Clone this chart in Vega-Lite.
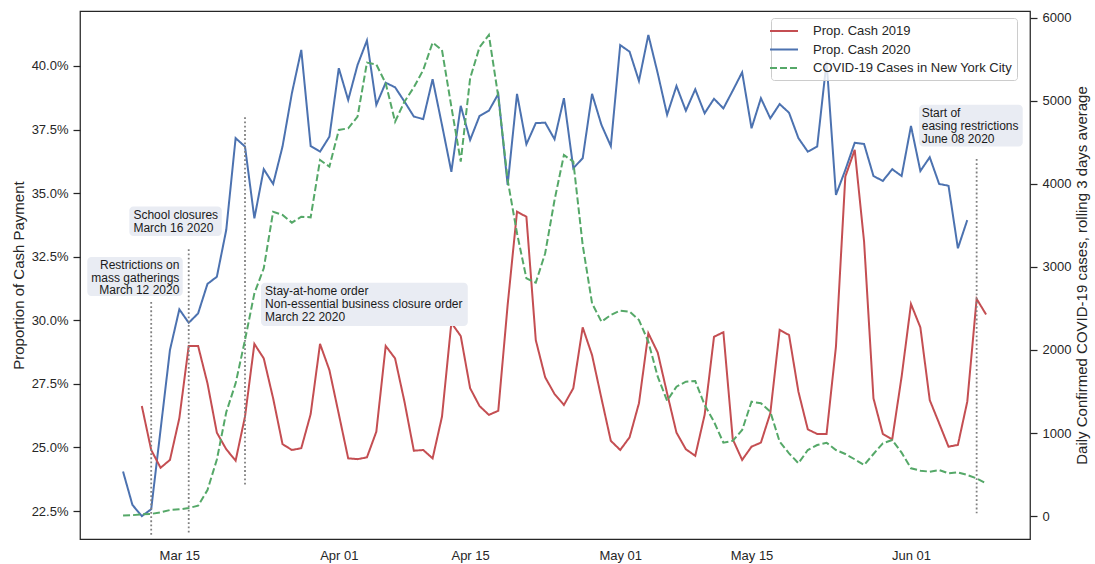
{
  "$schema": "https://vega.github.io/schema/vega-lite/v6.json",
  "width": 950,
  "height": 528,
  "autosize": {"type": "none"},
  "padding": {"left": 80, "top": 11, "right": 65, "bottom": 25},
  "background": "white",
  "datasets": {
    "cash": [
      {"date": "2020-03-09", "series": "Prop. Cash 2020", "value": 0.2405},
      {"date": "2020-03-10", "series": "Prop. Cash 2020", "value": 0.2274},
      {"date": "2020-03-11", "series": "Prop. Cash 2020", "value": 0.2230},
      {"date": "2020-03-12", "series": "Prop. Cash 2020", "value": 0.2257},
      {"date": "2020-03-13", "series": "Prop. Cash 2020", "value": 0.2570},
      {"date": "2020-03-14", "series": "Prop. Cash 2020", "value": 0.2883},
      {"date": "2020-03-15", "series": "Prop. Cash 2020", "value": 0.3043},
      {"date": "2020-03-16", "series": "Prop. Cash 2020", "value": 0.2990},
      {"date": "2020-03-17", "series": "Prop. Cash 2020", "value": 0.3027},
      {"date": "2020-03-18", "series": "Prop. Cash 2020", "value": 0.3143},
      {"date": "2020-03-19", "series": "Prop. Cash 2020", "value": 0.3171},
      {"date": "2020-03-20", "series": "Prop. Cash 2020", "value": 0.3355},
      {"date": "2020-03-21", "series": "Prop. Cash 2020", "value": 0.3716},
      {"date": "2020-03-22", "series": "Prop. Cash 2020", "value": 0.3683},
      {"date": "2020-03-23", "series": "Prop. Cash 2020", "value": 0.3401},
      {"date": "2020-03-24", "series": "Prop. Cash 2020", "value": 0.3594},
      {"date": "2020-03-25", "series": "Prop. Cash 2020", "value": 0.3536},
      {"date": "2020-03-26", "series": "Prop. Cash 2020", "value": 0.3683},
      {"date": "2020-03-27", "series": "Prop. Cash 2020", "value": 0.3893},
      {"date": "2020-03-28", "series": "Prop. Cash 2020", "value": 0.4063},
      {"date": "2020-03-29", "series": "Prop. Cash 2020", "value": 0.3685},
      {"date": "2020-03-30", "series": "Prop. Cash 2020", "value": 0.3663},
      {"date": "2020-03-31", "series": "Prop. Cash 2020", "value": 0.3722},
      {"date": "2020-04-01", "series": "Prop. Cash 2020", "value": 0.3991},
      {"date": "2020-04-02", "series": "Prop. Cash 2020", "value": 0.3866},
      {"date": "2020-04-03", "series": "Prop. Cash 2020", "value": 0.4004},
      {"date": "2020-04-04", "series": "Prop. Cash 2020", "value": 0.4100},
      {"date": "2020-04-05", "series": "Prop. Cash 2020", "value": 0.3847},
      {"date": "2020-04-06", "series": "Prop. Cash 2020", "value": 0.3934},
      {"date": "2020-04-07", "series": "Prop. Cash 2020", "value": 0.3916},
      {"date": "2020-04-08", "series": "Prop. Cash 2020", "value": 0.3860},
      {"date": "2020-04-09", "series": "Prop. Cash 2020", "value": 0.3801},
      {"date": "2020-04-10", "series": "Prop. Cash 2020", "value": 0.3791},
      {"date": "2020-04-11", "series": "Prop. Cash 2020", "value": 0.3948},
      {"date": "2020-04-12", "series": "Prop. Cash 2020", "value": 0.3768},
      {"date": "2020-04-13", "series": "Prop. Cash 2020", "value": 0.3584},
      {"date": "2020-04-14", "series": "Prop. Cash 2020", "value": 0.3843},
      {"date": "2020-04-15", "series": "Prop. Cash 2020", "value": 0.3709},
      {"date": "2020-04-16", "series": "Prop. Cash 2020", "value": 0.3803},
      {"date": "2020-04-17", "series": "Prop. Cash 2020", "value": 0.3824},
      {"date": "2020-04-18", "series": "Prop. Cash 2020", "value": 0.3890},
      {"date": "2020-04-19", "series": "Prop. Cash 2020", "value": 0.3532},
      {"date": "2020-04-20", "series": "Prop. Cash 2020", "value": 0.3890},
      {"date": "2020-04-21", "series": "Prop. Cash 2020", "value": 0.3692},
      {"date": "2020-04-22", "series": "Prop. Cash 2020", "value": 0.3775},
      {"date": "2020-04-23", "series": "Prop. Cash 2020", "value": 0.3777},
      {"date": "2020-04-24", "series": "Prop. Cash 2020", "value": 0.3712},
      {"date": "2020-04-25", "series": "Prop. Cash 2020", "value": 0.3873},
      {"date": "2020-04-26", "series": "Prop. Cash 2020", "value": 0.3598},
      {"date": "2020-04-27", "series": "Prop. Cash 2020", "value": 0.3637},
      {"date": "2020-04-28", "series": "Prop. Cash 2020", "value": 0.3890},
      {"date": "2020-04-29", "series": "Prop. Cash 2020", "value": 0.3768},
      {"date": "2020-04-30", "series": "Prop. Cash 2020", "value": 0.3685},
      {"date": "2020-05-01", "series": "Prop. Cash 2020", "value": 0.4082},
      {"date": "2020-05-02", "series": "Prop. Cash 2020", "value": 0.4056},
      {"date": "2020-05-03", "series": "Prop. Cash 2020", "value": 0.3941},
      {"date": "2020-05-04", "series": "Prop. Cash 2020", "value": 0.4122},
      {"date": "2020-05-05", "series": "Prop. Cash 2020", "value": 0.3971},
      {"date": "2020-05-06", "series": "Prop. Cash 2020", "value": 0.3808},
      {"date": "2020-05-07", "series": "Prop. Cash 2020", "value": 0.3921},
      {"date": "2020-05-08", "series": "Prop. Cash 2020", "value": 0.3824},
      {"date": "2020-05-09", "series": "Prop. Cash 2020", "value": 0.3908},
      {"date": "2020-05-10", "series": "Prop. Cash 2020", "value": 0.3814},
      {"date": "2020-05-11", "series": "Prop. Cash 2020", "value": 0.3871},
      {"date": "2020-05-12", "series": "Prop. Cash 2020", "value": 0.3833},
      {"date": "2020-05-13", "series": "Prop. Cash 2020", "value": 0.3903},
      {"date": "2020-05-14", "series": "Prop. Cash 2020", "value": 0.3975},
      {"date": "2020-05-15", "series": "Prop. Cash 2020", "value": 0.3755},
      {"date": "2020-05-16", "series": "Prop. Cash 2020", "value": 0.3873},
      {"date": "2020-05-17", "series": "Prop. Cash 2020", "value": 0.3794},
      {"date": "2020-05-18", "series": "Prop. Cash 2020", "value": 0.3850},
      {"date": "2020-05-19", "series": "Prop. Cash 2020", "value": 0.3816},
      {"date": "2020-05-20", "series": "Prop. Cash 2020", "value": 0.3716},
      {"date": "2020-05-21", "series": "Prop. Cash 2020", "value": 0.3663},
      {"date": "2020-05-22", "series": "Prop. Cash 2020", "value": 0.3683},
      {"date": "2020-05-23", "series": "Prop. Cash 2020", "value": 0.4017},
      {"date": "2020-05-24", "series": "Prop. Cash 2020", "value": 0.3493},
      {"date": "2020-05-25", "series": "Prop. Cash 2020", "value": 0.3591},
      {"date": "2020-05-26", "series": "Prop. Cash 2020", "value": 0.3698},
      {"date": "2020-05-27", "series": "Prop. Cash 2020", "value": 0.3693},
      {"date": "2020-05-28", "series": "Prop. Cash 2020", "value": 0.3567},
      {"date": "2020-05-29", "series": "Prop. Cash 2020", "value": 0.3548},
      {"date": "2020-05-30", "series": "Prop. Cash 2020", "value": 0.3594},
      {"date": "2020-05-31", "series": "Prop. Cash 2020", "value": 0.3567},
      {"date": "2020-06-01", "series": "Prop. Cash 2020", "value": 0.3764},
      {"date": "2020-06-02", "series": "Prop. Cash 2020", "value": 0.3587},
      {"date": "2020-06-03", "series": "Prop. Cash 2020", "value": 0.3641},
      {"date": "2020-06-04", "series": "Prop. Cash 2020", "value": 0.3536},
      {"date": "2020-06-05", "series": "Prop. Cash 2020", "value": 0.3529},
      {"date": "2020-06-06", "series": "Prop. Cash 2020", "value": 0.3283},
      {"date": "2020-06-07", "series": "Prop. Cash 2020", "value": 0.3394},
      {"date": "2020-03-11", "series": "Prop. Cash 2019", "value": 0.2663},
      {"date": "2020-03-12", "series": "Prop. Cash 2019", "value": 0.2490},
      {"date": "2020-03-13", "series": "Prop. Cash 2019", "value": 0.2420},
      {"date": "2020-03-14", "series": "Prop. Cash 2019", "value": 0.2451},
      {"date": "2020-03-15", "series": "Prop. Cash 2019", "value": 0.2615},
      {"date": "2020-03-16", "series": "Prop. Cash 2019", "value": 0.2899},
      {"date": "2020-03-17", "series": "Prop. Cash 2019", "value": 0.2899},
      {"date": "2020-03-18", "series": "Prop. Cash 2019", "value": 0.2752},
      {"date": "2020-03-19", "series": "Prop. Cash 2019", "value": 0.2558},
      {"date": "2020-03-20", "series": "Prop. Cash 2019", "value": 0.2493},
      {"date": "2020-03-21", "series": "Prop. Cash 2019", "value": 0.2448},
      {"date": "2020-03-22", "series": "Prop. Cash 2019", "value": 0.2621},
      {"date": "2020-03-23", "series": "Prop. Cash 2019", "value": 0.2907},
      {"date": "2020-03-24", "series": "Prop. Cash 2019", "value": 0.2850},
      {"date": "2020-03-25", "series": "Prop. Cash 2019", "value": 0.2693},
      {"date": "2020-03-26", "series": "Prop. Cash 2019", "value": 0.2513},
      {"date": "2020-03-27", "series": "Prop. Cash 2019", "value": 0.2490},
      {"date": "2020-03-28", "series": "Prop. Cash 2019", "value": 0.2497},
      {"date": "2020-03-29", "series": "Prop. Cash 2019", "value": 0.2631},
      {"date": "2020-03-30", "series": "Prop. Cash 2019", "value": 0.2907},
      {"date": "2020-03-31", "series": "Prop. Cash 2019", "value": 0.2804},
      {"date": "2020-04-01", "series": "Prop. Cash 2019", "value": 0.2631},
      {"date": "2020-04-02", "series": "Prop. Cash 2019", "value": 0.2457},
      {"date": "2020-04-03", "series": "Prop. Cash 2019", "value": 0.2454},
      {"date": "2020-04-04", "series": "Prop. Cash 2019", "value": 0.2461},
      {"date": "2020-04-05", "series": "Prop. Cash 2019", "value": 0.2562},
      {"date": "2020-04-06", "series": "Prop. Cash 2019", "value": 0.2899},
      {"date": "2020-04-07", "series": "Prop. Cash 2019", "value": 0.2850},
      {"date": "2020-04-08", "series": "Prop. Cash 2019", "value": 0.2680},
      {"date": "2020-04-09", "series": "Prop. Cash 2019", "value": 0.2487},
      {"date": "2020-04-10", "series": "Prop. Cash 2019", "value": 0.2490},
      {"date": "2020-04-11", "series": "Prop. Cash 2019", "value": 0.2457},
      {"date": "2020-04-12", "series": "Prop. Cash 2019", "value": 0.2621},
      {"date": "2020-04-13", "series": "Prop. Cash 2019", "value": 0.2990},
      {"date": "2020-04-14", "series": "Prop. Cash 2019", "value": 0.2938},
      {"date": "2020-04-15", "series": "Prop. Cash 2019", "value": 0.2733},
      {"date": "2020-04-16", "series": "Prop. Cash 2019", "value": 0.2663},
      {"date": "2020-04-17", "series": "Prop. Cash 2019", "value": 0.2628},
      {"date": "2020-04-18", "series": "Prop. Cash 2019", "value": 0.2644},
      {"date": "2020-04-19", "series": "Prop. Cash 2019", "value": 0.3060},
      {"date": "2020-04-20", "series": "Prop. Cash 2019", "value": 0.3427},
      {"date": "2020-04-21", "series": "Prop. Cash 2019", "value": 0.3407},
      {"date": "2020-04-22", "series": "Prop. Cash 2019", "value": 0.2922},
      {"date": "2020-04-23", "series": "Prop. Cash 2019", "value": 0.2776},
      {"date": "2020-04-24", "series": "Prop. Cash 2019", "value": 0.2710},
      {"date": "2020-04-25", "series": "Prop. Cash 2019", "value": 0.2667},
      {"date": "2020-04-26", "series": "Prop. Cash 2019", "value": 0.2733},
      {"date": "2020-04-27", "series": "Prop. Cash 2019", "value": 0.2972},
      {"date": "2020-04-28", "series": "Prop. Cash 2019", "value": 0.2863},
      {"date": "2020-04-29", "series": "Prop. Cash 2019", "value": 0.2693},
      {"date": "2020-04-30", "series": "Prop. Cash 2019", "value": 0.2526},
      {"date": "2020-05-01", "series": "Prop. Cash 2019", "value": 0.2490},
      {"date": "2020-05-02", "series": "Prop. Cash 2019", "value": 0.2540},
      {"date": "2020-05-03", "series": "Prop. Cash 2019", "value": 0.2674},
      {"date": "2020-05-04", "series": "Prop. Cash 2019", "value": 0.2949},
      {"date": "2020-05-05", "series": "Prop. Cash 2019", "value": 0.2873},
      {"date": "2020-05-06", "series": "Prop. Cash 2019", "value": 0.2713},
      {"date": "2020-05-07", "series": "Prop. Cash 2019", "value": 0.2558},
      {"date": "2020-05-08", "series": "Prop. Cash 2019", "value": 0.2493},
      {"date": "2020-05-09", "series": "Prop. Cash 2019", "value": 0.2467},
      {"date": "2020-05-10", "series": "Prop. Cash 2019", "value": 0.2628},
      {"date": "2020-05-11", "series": "Prop. Cash 2019", "value": 0.2935},
      {"date": "2020-05-12", "series": "Prop. Cash 2019", "value": 0.2953},
      {"date": "2020-05-13", "series": "Prop. Cash 2019", "value": 0.2532},
      {"date": "2020-05-14", "series": "Prop. Cash 2019", "value": 0.2451},
      {"date": "2020-05-15", "series": "Prop. Cash 2019", "value": 0.2503},
      {"date": "2020-05-16", "series": "Prop. Cash 2019", "value": 0.2519},
      {"date": "2020-05-17", "series": "Prop. Cash 2019", "value": 0.2634},
      {"date": "2020-05-18", "series": "Prop. Cash 2019", "value": 0.2962},
      {"date": "2020-05-19", "series": "Prop. Cash 2019", "value": 0.2942},
      {"date": "2020-05-20", "series": "Prop. Cash 2019", "value": 0.2719},
      {"date": "2020-05-21", "series": "Prop. Cash 2019", "value": 0.2571},
      {"date": "2020-05-22", "series": "Prop. Cash 2019", "value": 0.2553},
      {"date": "2020-05-23", "series": "Prop. Cash 2019", "value": 0.2553},
      {"date": "2020-05-24", "series": "Prop. Cash 2019", "value": 0.2896},
      {"date": "2020-05-25", "series": "Prop. Cash 2019", "value": 0.3565},
      {"date": "2020-05-26", "series": "Prop. Cash 2019", "value": 0.3670},
      {"date": "2020-05-27", "series": "Prop. Cash 2019", "value": 0.3309},
      {"date": "2020-05-28", "series": "Prop. Cash 2019", "value": 0.2693},
      {"date": "2020-05-29", "series": "Prop. Cash 2019", "value": 0.2553},
      {"date": "2020-05-30", "series": "Prop. Cash 2019", "value": 0.2532},
      {"date": "2020-05-31", "series": "Prop. Cash 2019", "value": 0.2778},
      {"date": "2020-06-01", "series": "Prop. Cash 2019", "value": 0.3064},
      {"date": "2020-06-02", "series": "Prop. Cash 2019", "value": 0.2972},
      {"date": "2020-06-03", "series": "Prop. Cash 2019", "value": 0.2686},
      {"date": "2020-06-04", "series": "Prop. Cash 2019", "value": 0.2595},
      {"date": "2020-06-05", "series": "Prop. Cash 2019", "value": 0.2503},
      {"date": "2020-06-06", "series": "Prop. Cash 2019", "value": 0.2510},
      {"date": "2020-06-07", "series": "Prop. Cash 2019", "value": 0.2680},
      {"date": "2020-06-08", "series": "Prop. Cash 2019", "value": 0.3084},
      {"date": "2020-06-09", "series": "Prop. Cash 2019", "value": 0.3023}
    ],
    "covid": [
      {"date": "2020-03-09", "series": "COVID-19 Cases in New York City", "cases": 5},
      {"date": "2020-03-10", "series": "COVID-19 Cases in New York City", "cases": 10},
      {"date": "2020-03-11", "series": "COVID-19 Cases in New York City", "cases": 20},
      {"date": "2020-03-12", "series": "COVID-19 Cases in New York City", "cases": 25},
      {"date": "2020-03-13", "series": "COVID-19 Cases in New York City", "cases": 44},
      {"date": "2020-03-14", "series": "COVID-19 Cases in New York City", "cases": 72},
      {"date": "2020-03-15", "series": "COVID-19 Cases in New York City", "cases": 80},
      {"date": "2020-03-16", "series": "COVID-19 Cases in New York City", "cases": 96},
      {"date": "2020-03-17", "series": "COVID-19 Cases in New York City", "cases": 124},
      {"date": "2020-03-18", "series": "COVID-19 Cases in New York City", "cases": 313},
      {"date": "2020-03-19", "series": "COVID-19 Cases in New York City", "cases": 680},
      {"date": "2020-03-20", "series": "COVID-19 Cases in New York City", "cases": 1250},
      {"date": "2020-03-21", "series": "COVID-19 Cases in New York City", "cases": 1598},
      {"date": "2020-03-22", "series": "COVID-19 Cases in New York City", "cases": 2120},
      {"date": "2020-03-23", "series": "COVID-19 Cases in New York City", "cases": 2683},
      {"date": "2020-03-24", "series": "COVID-19 Cases in New York City", "cases": 2984},
      {"date": "2020-03-25", "series": "COVID-19 Cases in New York City", "cases": 3666},
      {"date": "2020-03-26", "series": "COVID-19 Cases in New York City", "cases": 3627},
      {"date": "2020-03-27", "series": "COVID-19 Cases in New York City", "cases": 3534},
      {"date": "2020-03-28", "series": "COVID-19 Cases in New York City", "cases": 3606},
      {"date": "2020-03-29", "series": "COVID-19 Cases in New York City", "cases": 3598},
      {"date": "2020-03-30", "series": "COVID-19 Cases in New York City", "cases": 4289},
      {"date": "2020-03-31", "series": "COVID-19 Cases in New York City", "cases": 4209},
      {"date": "2020-04-01", "series": "COVID-19 Cases in New York City", "cases": 4651},
      {"date": "2020-04-02", "series": "COVID-19 Cases in New York City", "cases": 4671},
      {"date": "2020-04-03", "series": "COVID-19 Cases in New York City", "cases": 4811},
      {"date": "2020-04-04", "series": "COVID-19 Cases in New York City", "cases": 5462},
      {"date": "2020-04-05", "series": "COVID-19 Cases in New York City", "cases": 5440},
      {"date": "2020-04-06", "series": "COVID-19 Cases in New York City", "cases": 5213},
      {"date": "2020-04-07", "series": "COVID-19 Cases in New York City", "cases": 4751},
      {"date": "2020-04-08", "series": "COVID-19 Cases in New York City", "cases": 4992},
      {"date": "2020-04-09", "series": "COVID-19 Cases in New York City", "cases": 5165},
      {"date": "2020-04-10", "series": "COVID-19 Cases in New York City", "cases": 5373},
      {"date": "2020-04-11", "series": "COVID-19 Cases in New York City", "cases": 5703},
      {"date": "2020-04-12", "series": "COVID-19 Cases in New York City", "cases": 5614},
      {"date": "2020-04-13", "series": "COVID-19 Cases in New York City", "cases": 4931},
      {"date": "2020-04-14", "series": "COVID-19 Cases in New York City", "cases": 4269},
      {"date": "2020-04-15", "series": "COVID-19 Cases in New York City", "cases": 5273},
      {"date": "2020-04-16", "series": "COVID-19 Cases in New York City", "cases": 5647},
      {"date": "2020-04-17", "series": "COVID-19 Cases in New York City", "cases": 5795},
      {"date": "2020-04-18", "series": "COVID-19 Cases in New York City", "cases": 5052},
      {"date": "2020-04-19", "series": "COVID-19 Cases in New York City", "cases": 4048},
      {"date": "2020-04-20", "series": "COVID-19 Cases in New York City", "cases": 3406},
      {"date": "2020-04-21", "series": "COVID-19 Cases in New York City", "cases": 2863},
      {"date": "2020-04-22", "series": "COVID-19 Cases in New York City", "cases": 2811},
      {"date": "2020-04-23", "series": "COVID-19 Cases in New York City", "cases": 3165},
      {"date": "2020-04-24", "series": "COVID-19 Cases in New York City", "cases": 3807},
      {"date": "2020-04-25", "series": "COVID-19 Cases in New York City", "cases": 4349},
      {"date": "2020-04-26", "series": "COVID-19 Cases in New York City", "cases": 4269},
      {"date": "2020-04-27", "series": "COVID-19 Cases in New York City", "cases": 3265},
      {"date": "2020-04-28", "series": "COVID-19 Cases in New York City", "cases": 2562},
      {"date": "2020-04-29", "series": "COVID-19 Cases in New York City", "cases": 2341},
      {"date": "2020-04-30", "series": "COVID-19 Cases in New York City", "cases": 2422},
      {"date": "2020-05-01", "series": "COVID-19 Cases in New York City", "cases": 2474},
      {"date": "2020-05-02", "series": "COVID-19 Cases in New York City", "cases": 2462},
      {"date": "2020-05-03", "series": "COVID-19 Cases in New York City", "cases": 2361},
      {"date": "2020-05-04", "series": "COVID-19 Cases in New York City", "cases": 2100},
      {"date": "2020-05-05", "series": "COVID-19 Cases in New York City", "cases": 1678},
      {"date": "2020-05-06", "series": "COVID-19 Cases in New York City", "cases": 1390},
      {"date": "2020-05-07", "series": "COVID-19 Cases in New York City", "cases": 1558},
      {"date": "2020-05-08", "series": "COVID-19 Cases in New York City", "cases": 1618},
      {"date": "2020-05-09", "series": "COVID-19 Cases in New York City", "cases": 1627},
      {"date": "2020-05-10", "series": "COVID-19 Cases in New York City", "cases": 1337},
      {"date": "2020-05-11", "series": "COVID-19 Cases in New York City", "cases": 1136},
      {"date": "2020-05-12", "series": "COVID-19 Cases in New York City", "cases": 883},
      {"date": "2020-05-13", "series": "COVID-19 Cases in New York City", "cases": 907},
      {"date": "2020-05-14", "series": "COVID-19 Cases in New York City", "cases": 1036},
      {"date": "2020-05-15", "series": "COVID-19 Cases in New York City", "cases": 1377},
      {"date": "2020-05-16", "series": "COVID-19 Cases in New York City", "cases": 1358},
      {"date": "2020-05-17", "series": "COVID-19 Cases in New York City", "cases": 1257},
      {"date": "2020-05-18", "series": "COVID-19 Cases in New York City", "cases": 895},
      {"date": "2020-05-19", "series": "COVID-19 Cases in New York City", "cases": 755},
      {"date": "2020-05-20", "series": "COVID-19 Cases in New York City", "cases": 635},
      {"date": "2020-05-21", "series": "COVID-19 Cases in New York City", "cases": 795},
      {"date": "2020-05-22", "series": "COVID-19 Cases in New York City", "cases": 855},
      {"date": "2020-05-23", "series": "COVID-19 Cases in New York City", "cases": 883},
      {"date": "2020-05-24", "series": "COVID-19 Cases in New York City", "cases": 795},
      {"date": "2020-05-25", "series": "COVID-19 Cases in New York City", "cases": 747},
      {"date": "2020-05-26", "series": "COVID-19 Cases in New York City", "cases": 683},
      {"date": "2020-05-27", "series": "COVID-19 Cases in New York City", "cases": 614},
      {"date": "2020-05-28", "series": "COVID-19 Cases in New York City", "cases": 747},
      {"date": "2020-05-29", "series": "COVID-19 Cases in New York City", "cases": 876},
      {"date": "2020-05-30", "series": "COVID-19 Cases in New York City", "cases": 916},
      {"date": "2020-05-31", "series": "COVID-19 Cases in New York City", "cases": 763},
      {"date": "2020-06-01", "series": "COVID-19 Cases in New York City", "cases": 575},
      {"date": "2020-06-02", "series": "COVID-19 Cases in New York City", "cases": 546},
      {"date": "2020-06-03", "series": "COVID-19 Cases in New York City", "cases": 534},
      {"date": "2020-06-04", "series": "COVID-19 Cases in New York City", "cases": 554},
      {"date": "2020-06-05", "series": "COVID-19 Cases in New York City", "cases": 514},
      {"date": "2020-06-06", "series": "COVID-19 Cases in New York City", "cases": 526},
      {"date": "2020-06-07", "series": "COVID-19 Cases in New York City", "cases": 494},
      {"date": "2020-06-08", "series": "COVID-19 Cases in New York City", "cases": 454},
      {"date": "2020-06-09", "series": "COVID-19 Cases in New York City", "cases": 394}
    ],
    "events": [
      {"date": "2020-03-12", "top": 0.3072, "bottom": 0.2156},
      {"date": "2020-03-16", "top": 0.3279, "bottom": 0.2156},
      {"date": "2020-03-22", "top": 0.3798, "bottom": 0.2346},
      {"date": "2020-06-08", "top": 0.3634, "bottom": 0.2241}
    ],
    "boxes": [
      {"start": "2020-03-05T04:30:00Z", "end": "2020-03-15T08:40:00Z", "top": 0.3249, "bottom": 0.3095},
      {"start": "2020-03-09T16:00:00Z", "end": "2020-03-19T12:30:00Z", "top": 0.3447, "bottom": 0.3331},
      {"start": "2020-03-23T17:00:00Z", "end": "2020-04-14T18:00:00Z", "top": 0.3148, "bottom": 0.2977},
      {"start": "2020-06-01T20:40:00Z", "end": "2020-06-12T21:50:00Z", "top": 0.3847, "bottom": 0.3683}
    ],
    "notesRight": [
      {"date": "2020-03-15T00:00:00Z", "top": 0.3237, "label": "Restrictions on\nmass gatherings\nMarch 12 2020"}
    ],
    "notesLeft": [
      {"date": "2020-03-10T02:25:00Z", "top": 0.3433, "label": "School closures\nMarch 16 2020"},
      {"date": "2020-03-24T03:20:00Z", "top": 0.3133, "label": "Stay-at-home order\nNon-essential business closure order\nMarch 22 2020"},
      {"date": "2020-06-02T03:35:00Z", "top": 0.3833, "label": "Start of\neasing restrictions\nJune 08 2020"}
    ]
  },
  "layer": [
    {
      "layer": [
        {
          "data": {"name": "cash"},
          "mark": {"type": "line", "strokeWidth": 2, "clip": true},
          "encoding": {
            "x": {
              "field": "date", "type": "temporal", "title": null,
              "scale": {"type": "utc", "domain": [{"year": 2020, "month": 3, "date": 4, "hours": 9, "minutes": 50, "utc": true}, {"year": 2020, "month": 6, "date": 13, "hours": 16, "minutes": 30, "utc": true}]},
              "axis": {"title": null, "format": "%b %d", "ticks": false, "labelPadding": 10, "values": [{"year": 2020, "month": 3, "date": 15, "utc": true}, {"year": 2020, "month": 4, "date": 1, "utc": true}, {"year": 2020, "month": 4, "date": 15, "utc": true}, {"year": 2020, "month": 5, "date": 1, "utc": true}, {"year": 2020, "month": 5, "date": 15, "utc": true}, {"year": 2020, "month": 6, "date": 1, "utc": true}]}
            },
            "y": {
              "field": "value", "type": "quantitative", "title": "Proportion of Cash Payment",
              "scale": {"domain": [0.2140, 0.4216], "nice": false, "zero": false},
              "axis": {"title": "Proportion of Cash Payment", "orient": "left", "format": ".1%", "values": [0.225, 0.25, 0.275, 0.3, 0.325, 0.35, 0.375, 0.4], "tickSize": 7, "labelPadding": 5, "titlePadding": 5}
            },
            "color": {
              "field": "series", "type": "nominal",
              "scale": {"domain": ["Prop. Cash 2019", "Prop. Cash 2020", "COVID-19 Cases in New York City"], "range": ["#c44e52", "#4c72b0", "#55a868"]},
              "legend": {"title": null, "orient": "none", "legendX": 691, "legendY": 7, "symbolType": "M-2,0L2,0", "symbolSize": 196, "symbolStrokeWidth": 2, "labelOffset": 21, "rowPadding": 3.5, "padding": 5, "fillColor": "rgba(255,255,255,0.8)", "strokeColor": "#cccccc", "cornerRadius": 3, "labelLimit": 300, "labelFontSize": 13, "labelColor": "#262626", "labelFont": "Liberation Sans"}
            },
            "strokeDash": {
              "field": "series", "type": "nominal",
              "scale": {"domain": ["Prop. Cash 2019", "Prop. Cash 2020", "COVID-19 Cases in New York City"], "range": [[1, 0], [1, 0], [7, 3]]},
              "legend": {"title": null, "orient": "none", "legendX": 691, "legendY": 7, "symbolType": "M-2,0L2,0", "symbolSize": 196, "symbolStrokeWidth": 2, "labelOffset": 21, "rowPadding": 3.5, "padding": 5, "fillColor": "rgba(255,255,255,0.8)", "strokeColor": "#cccccc", "cornerRadius": 3, "labelLimit": 300, "labelFontSize": 13, "labelColor": "#262626", "labelFont": "Liberation Sans"}
            }
          }
        },
        {
          "data": {"name": "events"},
          "mark": {"type": "rule", "color": "#808080", "strokeWidth": 1.8, "strokeDash": [1.8, 2.4]},
          "encoding": {
            "x": {
              "field": "date", "type": "temporal", "title": null,
              "scale": {"type": "utc", "domain": [{"year": 2020, "month": 3, "date": 4, "hours": 9, "minutes": 50, "utc": true}, {"year": 2020, "month": 6, "date": 13, "hours": 16, "minutes": 30, "utc": true}]},
              "axis": {"title": null, "format": "%b %d", "ticks": false, "labelPadding": 10, "values": [{"year": 2020, "month": 3, "date": 15, "utc": true}, {"year": 2020, "month": 4, "date": 1, "utc": true}, {"year": 2020, "month": 4, "date": 15, "utc": true}, {"year": 2020, "month": 5, "date": 1, "utc": true}, {"year": 2020, "month": 5, "date": 15, "utc": true}, {"year": 2020, "month": 6, "date": 1, "utc": true}]}
            },
            "y": {
              "field": "top", "type": "quantitative", "title": "Proportion of Cash Payment",
              "scale": {"domain": [0.2140, 0.4216], "nice": false, "zero": false},
              "axis": {"title": "Proportion of Cash Payment", "orient": "left", "format": ".1%", "values": [0.225, 0.25, 0.275, 0.3, 0.325, 0.35, 0.375, 0.4], "tickSize": 7, "labelPadding": 5, "titlePadding": 5}
            },
            "y2": {"field": "bottom"}
          }
        },
        {
          "data": {"name": "boxes"},
          "mark": {"type": "rect", "fill": "#e9ecf3", "cornerRadius": 4},
          "encoding": {
            "x": {
              "field": "start", "type": "temporal", "title": null,
              "scale": {"type": "utc", "domain": [{"year": 2020, "month": 3, "date": 4, "hours": 9, "minutes": 50, "utc": true}, {"year": 2020, "month": 6, "date": 13, "hours": 16, "minutes": 30, "utc": true}]},
              "axis": {"title": null, "format": "%b %d", "ticks": false, "labelPadding": 10, "values": [{"year": 2020, "month": 3, "date": 15, "utc": true}, {"year": 2020, "month": 4, "date": 1, "utc": true}, {"year": 2020, "month": 4, "date": 15, "utc": true}, {"year": 2020, "month": 5, "date": 1, "utc": true}, {"year": 2020, "month": 5, "date": 15, "utc": true}, {"year": 2020, "month": 6, "date": 1, "utc": true}]}
            },
            "x2": {"field": "end"},
            "y": {
              "field": "top", "type": "quantitative", "title": "Proportion of Cash Payment",
              "scale": {"domain": [0.2140, 0.4216], "nice": false, "zero": false},
              "axis": {"title": "Proportion of Cash Payment", "orient": "left", "format": ".1%", "values": [0.225, 0.25, 0.275, 0.3, 0.325, 0.35, 0.375, 0.4], "tickSize": 7, "labelPadding": 5, "titlePadding": 5}
            },
            "y2": {"field": "bottom"}
          }
        },
        {
          "data": {"name": "notesRight"},
          "mark": {"type": "text", "align": "right", "baseline": "top", "lineBreak": "\n", "fontSize": 12, "lineHeight": 12.6, "font": "Liberation Sans", "color": "#1a1a1a"},
          "encoding": {
            "x": {
              "field": "date", "type": "temporal", "title": null,
              "scale": {"type": "utc", "domain": [{"year": 2020, "month": 3, "date": 4, "hours": 9, "minutes": 50, "utc": true}, {"year": 2020, "month": 6, "date": 13, "hours": 16, "minutes": 30, "utc": true}]},
              "axis": {"title": null, "format": "%b %d", "ticks": false, "labelPadding": 10, "values": [{"year": 2020, "month": 3, "date": 15, "utc": true}, {"year": 2020, "month": 4, "date": 1, "utc": true}, {"year": 2020, "month": 4, "date": 15, "utc": true}, {"year": 2020, "month": 5, "date": 1, "utc": true}, {"year": 2020, "month": 5, "date": 15, "utc": true}, {"year": 2020, "month": 6, "date": 1, "utc": true}]}
            },
            "y": {
              "field": "top", "type": "quantitative", "title": "Proportion of Cash Payment",
              "scale": {"domain": [0.2140, 0.4216], "nice": false, "zero": false},
              "axis": {"title": "Proportion of Cash Payment", "orient": "left", "format": ".1%", "values": [0.225, 0.25, 0.275, 0.3, 0.325, 0.35, 0.375, 0.4], "tickSize": 7, "labelPadding": 5, "titlePadding": 5}
            },
            "text": {"field": "label"}
          }
        },
        {
          "data": {"name": "notesLeft"},
          "mark": {"type": "text", "align": "left", "baseline": "top", "lineBreak": "\n", "fontSize": 12, "lineHeight": 12.6, "font": "Liberation Sans", "color": "#1a1a1a"},
          "encoding": {
            "x": {
              "field": "date", "type": "temporal", "title": null,
              "scale": {"type": "utc", "domain": [{"year": 2020, "month": 3, "date": 4, "hours": 9, "minutes": 50, "utc": true}, {"year": 2020, "month": 6, "date": 13, "hours": 16, "minutes": 30, "utc": true}]},
              "axis": {"title": null, "format": "%b %d", "ticks": false, "labelPadding": 10, "values": [{"year": 2020, "month": 3, "date": 15, "utc": true}, {"year": 2020, "month": 4, "date": 1, "utc": true}, {"year": 2020, "month": 4, "date": 15, "utc": true}, {"year": 2020, "month": 5, "date": 1, "utc": true}, {"year": 2020, "month": 5, "date": 15, "utc": true}, {"year": 2020, "month": 6, "date": 1, "utc": true}]}
            },
            "y": {
              "field": "top", "type": "quantitative", "title": "Proportion of Cash Payment",
              "scale": {"domain": [0.2140, 0.4216], "nice": false, "zero": false},
              "axis": {"title": "Proportion of Cash Payment", "orient": "left", "format": ".1%", "values": [0.225, 0.25, 0.275, 0.3, 0.325, 0.35, 0.375, 0.4], "tickSize": 7, "labelPadding": 5, "titlePadding": 5}
            },
            "text": {"field": "label"}
          }
        }
      ]
    },
    {
      "data": {"name": "covid"},
      "mark": {"type": "line", "strokeWidth": 2, "clip": true},
      "encoding": {
        "x": {
          "field": "date", "type": "temporal", "title": null,
          "scale": {"type": "utc", "domain": [{"year": 2020, "month": 3, "date": 4, "hours": 9, "minutes": 50, "utc": true}, {"year": 2020, "month": 6, "date": 13, "hours": 16, "minutes": 30, "utc": true}]},
          "axis": {"title": null, "format": "%b %d", "ticks": false, "labelPadding": 10, "values": [{"year": 2020, "month": 3, "date": 15, "utc": true}, {"year": 2020, "month": 4, "date": 1, "utc": true}, {"year": 2020, "month": 4, "date": 15, "utc": true}, {"year": 2020, "month": 5, "date": 1, "utc": true}, {"year": 2020, "month": 5, "date": 15, "utc": true}, {"year": 2020, "month": 6, "date": 1, "utc": true}]}
        },
        "y": {
          "field": "cases", "type": "quantitative",
          "scale": {"domain": [-277, 6084], "nice": false, "zero": false},
          "axis": {"title": "Daily Confirmed COVID-19 cases, rolling 3 days average", "orient": "right", "values": [0, 1000, 2000, 3000, 4000, 5000, 6000], "format": "d", "tickSize": 7, "labelPadding": 5, "titlePadding": 4, "titleAngle": 270, "titleBaseline": "top"}
        },
        "color": {
          "field": "series", "type": "nominal",
          "scale": {"domain": ["Prop. Cash 2019", "Prop. Cash 2020", "COVID-19 Cases in New York City"], "range": ["#c44e52", "#4c72b0", "#55a868"]},
          "legend": {"title": null, "orient": "none", "legendX": 691, "legendY": 7, "symbolType": "M-2,0L2,0", "symbolSize": 196, "symbolStrokeWidth": 2, "labelOffset": 21, "rowPadding": 3.5, "padding": 5, "fillColor": "rgba(255,255,255,0.8)", "strokeColor": "#cccccc", "cornerRadius": 3, "labelLimit": 300, "labelFontSize": 13, "labelColor": "#262626", "labelFont": "Liberation Sans"}
        },
        "strokeDash": {
          "field": "series", "type": "nominal",
          "scale": {"domain": ["Prop. Cash 2019", "Prop. Cash 2020", "COVID-19 Cases in New York City"], "range": [[1, 0], [1, 0], [7, 3]]},
          "legend": {"title": null, "orient": "none", "legendX": 691, "legendY": 7, "symbolType": "M-2,0L2,0", "symbolSize": 196, "symbolStrokeWidth": 2, "labelOffset": 21, "rowPadding": 3.5, "padding": 5, "fillColor": "rgba(255,255,255,0.8)", "strokeColor": "#cccccc", "cornerRadius": 3, "labelLimit": 300, "labelFontSize": 13, "labelColor": "#262626", "labelFont": "Liberation Sans"}
        }
      }
    }
  ],
  "resolve": {"scale": {"y": "independent"}},
  "config": {
    "font": "Liberation Sans",
    "view": {"stroke": "#262626", "strokeWidth": 1.25},
    "axis": {
      "labelFont": "Liberation Sans", "labelFontSize": 13, "labelColor": "#262626",
      "titleFont": "Liberation Sans", "titleFontSize": 15, "titleFontWeight": "normal", "titleColor": "#262626",
      "tickColor": "#262626", "tickWidth": 1.25, "domain": false, "grid": false
    }
  }
}
